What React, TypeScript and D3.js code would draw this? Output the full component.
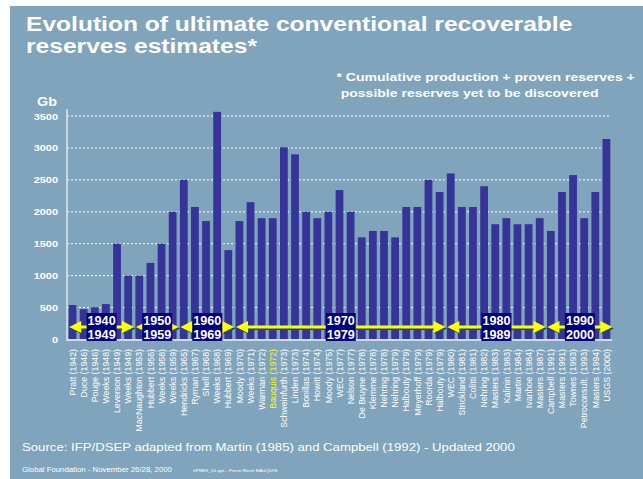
import React from "react";
import * as d3 from "d3";

const categories = [
  "Pratt (1942)", "Duce (1946)", "Pouge (1946)", "Weeks (1948)", "Leverson (1949)", "Weeks (1949)",
  "MacNaughton (1953)", "Hubbert (1956)", "Weeks (1958)", "Weeks (1959)", "Hendricks (1965)",
  "Ryman (1967)", "Shell (1968)", "Weeks (1968)", "Hubbert (1969)", "Moody (1970)", "Weeks (1971)",
  "Warman (1972)", "Bauquis (1972)", "Schweinfurth (1973)", "Linden (1973)", "Bonillas (1974)",
  "Howitt (1974)", "Moody (1975)", "WEC (1977)", "Nelson (1977)", "De Bruyne (1978)", "Klemme (1978)",
  "Nehring (1978)", "Nehring (1979)", "Halbouty (1979)", "Meyerhoff (1979)", "Roorda (1979)",
  "Halbouty (1979)", "WEC (1980)", "Strickland (1981)", "Colitti (1981)", "Nehring (1982)",
  "Masters (1983)", "Kalinin (1983)", "Martin (1984)", "Ivanhoe (1984)", "Masters (1987)",
  "Campbell (1991)", "Masters (1991)", "Townes (1993)", "Petroconsult. (1993)", "Masters (1994)",
  "USGS (2000)",
];

const reserves = [
  540, 475, 505, 555, 1500, 1000, 1000, 1200, 1500, 2000, 2500, 2075, 1855, 3565, 1400, 1855, 2150,
  1900, 1900, 3010, 2900, 2000, 1900, 2000, 2340, 2000, 1600, 1700, 1700, 1600, 2075, 2075, 2500,
  2310, 2600, 2075, 2075, 2400, 1805, 1900, 1805, 1805, 1900, 1700, 2310, 2575, 1900, 2310, 3140,
];

const highlighted = ["Bauquis (1972)"];

const yTicks = [0, 500, 1000, 1500, 2000, 2500, 3000, 3500];

const decadeFrom = ["1940", "1950", "1960", "1970", "1980", "1990"];
const decadeTo = ["1949", "1959", "1969", "1979", "1989", "2000"];
const decadeFirstIdx = [0, 6, 10, 15, 34, 43];
const decadeLastIdx = [5, 9, 14, 33, 42, 48];

const W = 643;
const H = 479;
const BG = "#7fa4bb";
const BAR = "#363399";
const SX = 1.2; // horizontal stretch of the original slide text

export default function App() {
  const keys = categories.map((c, i) => i);
  const x = d3.scaleBand<number>().domain(keys).range([67, 612]).paddingInner(0.3).paddingOuter(0.15);
  const y = d3.scaleLinear().domain([0, 3500]).range([339.5, 116]);
  const bw = x.bandwidth();
  const arrowY = 327;

  const stretched = (tx: number, ty: number, sx = SX) => `translate(${tx},${ty}) scale(${sx},1)`;

  return (
    <svg width={W} height={H} style={{ position: "absolute", left: 0, top: 0 }} fontFamily="Liberation Sans, Arial, sans-serif">
      <rect x={0} y={0} width={W} height={H} fill="#ffffff" />
      <rect x={10} y={6} width={W - 10} height={H - 6} fill={BG} />

      {/* Title */}
      <g fill="#ffffff" fontWeight="bold" fontSize={20.5}>
        <text transform={stretched(26, 30.7)}>Evolution of ultimate conventional recoverable</text>
        <text transform={stretched(26, 53.3)}>reserves estimates*</text>
      </g>
      <g fill="#ffffff" fontWeight="bold" fontSize={11.5}>
        <text transform={stretched(336.5, 80.7, 1.22)}>* Cumulative production + proven reserves +</text>
        <text transform={stretched(340.7, 96.7, 1.22)}>possible reserves yet to be discovered</text>
      </g>

      {/* Unit */}
      <text transform={stretched(37, 106, 1.15)} fill="#ffffff" fontWeight="bold" fontSize={12.5}>Gb</text>

      {/* Grid */}
      {yTicks.filter((t) => t > 0).map((t) => (
        <line key={"g" + t} x1={67} x2={610} y1={y(t)} y2={y(t)} stroke="#ffffff" strokeWidth={1} strokeDasharray="2,2" />
      ))}

      {/* Y tick labels */}
      {yTicks.map((t) => (
        <text key={"t" + t} transform={stretched(58, y(t) + 3.5, 1.15)} textAnchor="end" fill="#ffffff" fontWeight="bold" fontSize={9.5}>
          {t}
        </text>
      ))}

      {/* Bars */}
      {reserves.map((v, i) => (
        <rect key={"b" + i} x={x(i)} y={y(v)} width={bw} height={y(0) - y(v)} fill={BAR} />
      ))}

      {/* Axes */}
      <line x1={67} x2={67} y1={109} y2={340} stroke="#dfe6ee" strokeWidth={1.5} />
      <line x1={66} x2={612} y1={340} y2={340} stroke="#d3dbe5" strokeWidth={2} />

      {/* Category labels */}
      {categories.map((c, i) => {
        const cx = (x(i) as number) + bw / 2;
        return (
          <text
            key={"l" + i}
            transform={`translate(${cx + 3.2},349) rotate(-90)`}
            textAnchor="end"
            fill={highlighted.includes(c) ? "#ffff00" : "#ffffff"}
            fontSize={8.8}
          >
            {c}
          </text>
        );
      })}

      {/* Decade arrows */}
      {decadeFrom.map((d, k) => {
        const x0 = (x(decadeFirstIdx[k]) as number) + 0.5;
        const x1 = (x(decadeLastIdx[k]) as number) + bw + 2;
        const mid = (x0 + x1) / 2;
        const hl = 12;
        const hh = 6;
        const path = (dx: number, dy: number) =>
          `M${x0 + dx},${arrowY + dy} L${x0 + hl + dx},${arrowY - hh + dy} L${x0 + hl + dx},${arrowY - 1.5 + dy} L${x1 - hl + dx},${arrowY - 1.5 + dy} L${x1 - hl + dx},${arrowY - hh + dy} L${x1 + dx},${arrowY + dy} L${x1 - hl + dx},${arrowY + hh + dy} L${x1 - hl + dx},${arrowY + 1.5 + dy} L${x0 + hl + dx},${arrowY + 1.5 + dy} L${x0 + hl + dx},${arrowY + hh + dy} Z`;
        return (
          <g key={"d" + d}>
            <path d={path(1.5, 1.5)} fill="#1d4f5e" />
            <path d={path(0, 0)} fill="#ffff00" />
            <rect x={mid - 15} y={313} width={30} height={28} fill="#000080" />
            <text transform={stretched(mid, 324.5, 1.05)} textAnchor="middle" fill="#ffffff" fontWeight="bold" fontSize={12}>{d}</text>
            <text transform={stretched(mid, 338.5, 1.05)} textAnchor="middle" fill="#ffffff" fontWeight="bold" fontSize={12}>{decadeTo[k]}</text>
          </g>
        );
      })}

      {/* Source & footer */}
      <text transform={stretched(22, 450.7, 1.22)} fill="#ffffff" fontSize={10.8}>
        Source: IFP/DSEP adapted from Martin (1985) and Campbell (1992) - Updated 2000
      </text>
      <text transform={stretched(22, 472, 1.22)} fill="#ffffff" fontSize={6.4}>
        Global Foundation - November 26/28, 2000
      </text>
      <text transform={stretched(193, 472, 1.15)} fill="#ffffff" fontSize={4.2}>
        0PRB9_01.ppt - Pierre René BAUQUIS
      </text>
    </svg>
  );
}
